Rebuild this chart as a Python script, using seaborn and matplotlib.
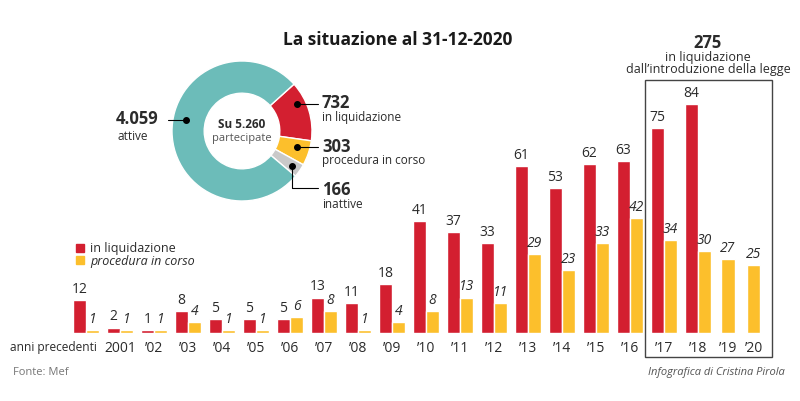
import pandas as pd
import seaborn as sns
import matplotlib.pyplot as plt
import matplotlib.transforms as mtransforms
from matplotlib.patches import Rectangle

# Dati
anni = ['anni precedenti', '2001', '’02', '’03', '’04', '’05', '’06', '’07', '’08', '’09',
        '’10', '’11', '’12', '’13', '’14', '’15', '’16', '’17', '’18', '’19', '’20']
in_liquidazione = [12, 2, 1, 8, 5, 5, 5, 13, 11, 18, 41, 37, 33, 61, 53, 62, 63, 75, 84, None, None]
procedura_in_corso = [1, 1, 1, 4, 1, 1, 6, 8, 1, 4, 8, 13, 11, 29, 23, 33, 42, 34, 30, 27, 25]

stato_labels = ['in liquidazione', 'procedura in corso', 'inattive', 'attive']
stato_valori = [732, 303, 166, 4059]
totale = 5260

ROSSO = '#d31f30'
GIALLO = '#fcbf2c'
TEAL = '#6cbcb9'
GRIGIO = '#c9c9c9'
TESTO = '#2b2b2b'

sns.set_style('white')
plt.rcParams['font.family'] = ['Open Sans', 'DejaVu Sans']

df = pd.DataFrame({
    'anno': anni * 2,
    'valore': in_liquidazione + procedura_in_corso,
    'serie': ['in liquidazione'] * len(anni) + ['procedura in corso'] * len(anni),
})

fig = plt.figure(figsize=(8, 4.02), dpi=100)
W, H = 800, 402


def px(x, y):
    return x / W, (H - y) / H


# Grafico a barre
ax = fig.add_axes([69 / W, (H - 334) / H, 714 / W, 273 / H])
sns.barplot(data=df, x='anno', y='valore', hue='serie', order=anni,
            palette=[ROSSO, GIALLO], width=0.78, saturation=1, ax=ax, legend=False)
ax.set_ylim(0, 100)
ax.set_xlim(-0.5, 20.5)
ax.set_xlabel('')
ax.set_ylabel('')
ax.set_yticks([])
sns.despine(ax=ax, left=True, bottom=True)

# barre gialle senza barra rossa ('19, '20): gruppi più stretti, barra centrata
tick_pos = list(range(len(anni)))
gialli = ax.containers[1]
n_soli = 0
for i, g in enumerate(gialli):
    if pd.isna(in_liquidazione[i]):
        centro = i - 0.12 - 0.24 * n_soli
        g.set_x(centro - g.get_width() / 2)
        tick_pos[i] = centro
        n_soli += 1
ax.set_xticks(tick_pos, anni)
ax.tick_params(axis='x', length=0, pad=5, labelsize=10, labelcolor=TESTO)

first = ax.get_xticklabels()[0]
first.set_ha('right')
first.set_fontsize(8.6)
first.set_transform(first.get_transform() + mtransforms.ScaledTranslation(0.11, 0, fig.dpi_scale_trans))

for k, cont in enumerate(ax.containers):
    for bar in cont:
        h = bar.get_height()
        if pd.isna(h) or h == 0:
            continue
        ax.text(bar.get_x() + bar.get_width() / 2, h + 1.5, f'{int(h)}',
                ha='center', va='bottom', fontsize=10, color=TESTO,
                style='italic' if k == 1 else 'normal')

# Riquadro 2017-2020
ax.add_patch(Rectangle((16.45, -8.8), 3.73, 101.5, fill=False, edgecolor='#444444',
                       linewidth=1.0, clip_on=False))
fig.text(*px(708, 43), '275', ha='center', va='center', fontsize=12,
         fontweight='bold', color=TESTO)
fig.text(*px(708, 57), 'in liquidazione', ha='center', va='center', fontsize=9,
         color=TESTO)
fig.text(*px(708, 69), 'dall’introduzione della legge', ha='center', va='center',
         fontsize=9, color=TESTO)

# Legenda
fig.patches.append(Rectangle(px(76, 253), 8 / W, 8 / H, color=ROSSO,
                             transform=fig.transFigure, figure=fig))
fig.patches.append(Rectangle(px(76, 265), 8 / W, 8 / H, color=GIALLO,
                             transform=fig.transFigure, figure=fig))
fig.text(*px(90, 249), 'in liquidazione', va='center', fontsize=9, color=TESTO)
fig.text(*px(90, 261), 'procedura in corso', va='center', fontsize=9,
         style='italic', color=TESTO)

# Titolo
fig.text(*px(398, 40), 'La situazione al 31-12-2020', ha='center', va='center',
         fontsize=12.5, fontweight='bold', color='#1a1a1a')

# Ciambella
axp = fig.add_axes([(242 - 70) / W, (H - 132 - 70) / H, 140 / W, 140 / H])
axp.pie(stato_valori, colors=[ROSSO, GIALLO, GRIGIO, TEAL], startangle=42,
        counterclock=False, radius=1.0,
        wedgeprops=dict(width=0.46, edgecolor='white', linewidth=1))
axp.set_xlim(-1, 1)
axp.set_ylim(-1, 1)
axp.set_aspect('equal')
axp.axis('off')
fig.text(*px(242, 125), f'Su {totale:,}'.replace(',', '.'), ha='center',
         va='center', fontsize=8.5, fontweight='bold', color=TESTO)
fig.text(*px(242, 138), 'partecipate', ha='center', va='center', fontsize=8,
         color='#555555')


def linea(xs, ys):
    fig.lines.append(plt.Line2D([x / W for x in xs], [(H - y) / H for y in ys],
                                color='black', lw=0.8, transform=fig.transFigure))
    fig.lines.append(plt.Line2D([xs[0] / W], [(H - ys[0]) / H], marker='o', ms=4,
                                color='black', transform=fig.transFigure))


# Annotazioni ciambella
linea([186, 168], [121, 121])
fig.text(*px(116, 119), f'{stato_valori[3]:,}'.replace(',', '.'), va='center',
         fontsize=12, fontweight='bold', color=TESTO)
fig.text(*px(117, 136), stato_labels[3], va='center', fontsize=8.5, color=TESTO)

for yv, yl, dot_y, k in [(103, 118, 105, 0), (147, 161, 148, 1)]:
    linea([297, 318], [dot_y, dot_y])
    fig.text(*px(322, yv), str(stato_valori[k]), va='center', fontsize=12,
             fontweight='bold', color=TESTO)
    fig.text(*px(322, yl), stato_labels[k], va='center', fontsize=8.5, color=TESTO)

linea([292, 292, 318], [167, 189, 189])
fig.text(*px(322, 190), str(stato_valori[2]), va='center', fontsize=12,
         fontweight='bold', color=TESTO)
fig.text(*px(322, 205), stato_labels[2], va='center', fontsize=8.5, color=TESTO)

# Note
fig.text(*px(13, 373), 'Fonte: Mef', va='center', fontsize=8, color='#777777')
fig.text(*px(785, 373), 'Infografica di Cristina Pirola', ha='right', va='center',
         fontsize=8, style='italic', color='#555555')

fig.savefig('out.png', dpi=100, facecolor='white')
